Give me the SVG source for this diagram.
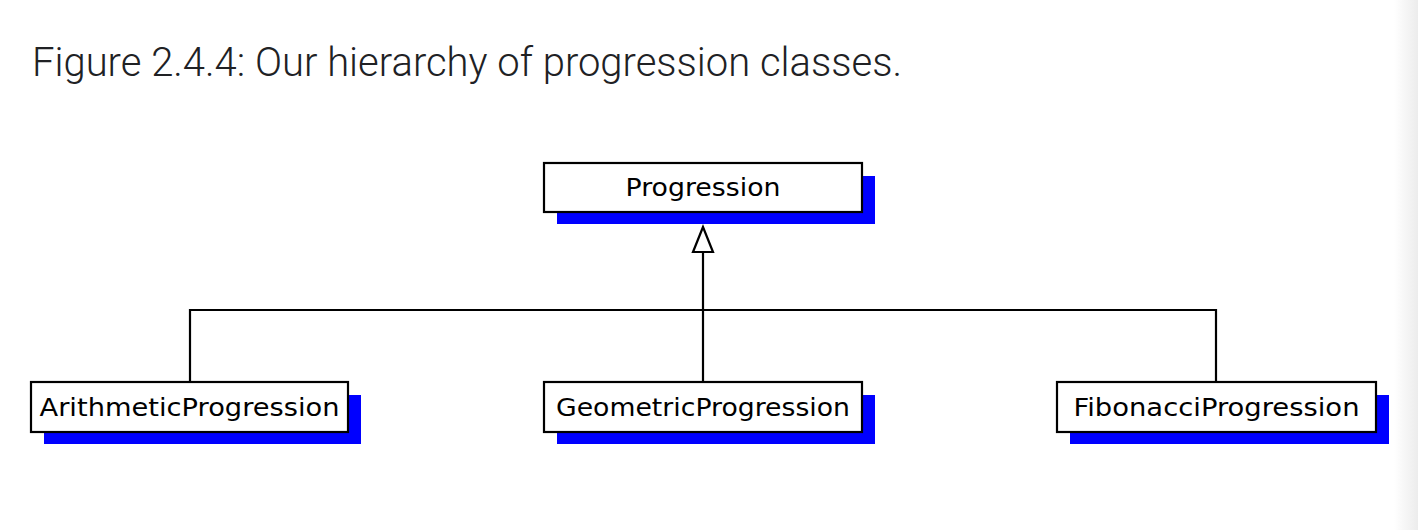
<svg xmlns="http://www.w3.org/2000/svg" width="1418" height="530" viewBox="0 0 1418 530">
  <defs>
    <linearGradient id="edge" x1="0" y1="0" x2="1" y2="0">
      <stop offset="0" stop-color="#ffffff"/>
      <stop offset="1" stop-color="#ececec"/>
    </linearGradient>
    <style>
      .shadow { fill: #0000ff; }
      .box { fill: #ffffff; stroke: #000000; stroke-width: 2.2; }
      .label { font-family: "DejaVu Sans", "Liberation Sans", sans-serif; font-size: 25px; fill: #000000; text-anchor: middle; }
      .title { font-family: Roboto, "Liberation Sans", sans-serif; font-weight: 300; font-size: 40px; fill: #202124; }
      .conn { fill: none; stroke: #000000; stroke-width: 2.2; }
    </style>
  </defs>
  <rect x="0" y="0" width="1418" height="530" fill="#ffffff"/>
  <rect x="1394" y="0" width="24" height="530" fill="url(#edge)"/>
  <text class="title" x="32" y="76" textLength="870" lengthAdjust="spacingAndGlyphs">Figure 2.4.4: Our hierarchy of progression classes.</text>

  <g id="connectors">
    <polyline class="conn" points="190,382 190,310 1216,310 1216,382"/>
    <line class="conn" x1="703" y1="252" x2="703" y2="382"/>
    <polygon points="703,227 693,252 713,252" fill="#ffffff" stroke="#000000" stroke-width="2.2" stroke-linejoin="miter"/>
  </g>

  <g id="progression">
    <rect class="shadow" x="557" y="176" width="318" height="48"/>
    <rect class="box" x="544" y="163" width="318" height="49"/>
    <text class="label" x="703" y="196" textLength="155" lengthAdjust="spacingAndGlyphs">Progression</text>
  </g>

  <g id="arithmetic">
    <rect class="shadow" x="44" y="395" width="317" height="49"/>
    <rect class="box" x="31" y="382" width="317" height="50"/>
    <text class="label" x="189.5" y="416" textLength="300" lengthAdjust="spacingAndGlyphs">ArithmeticProgression</text>
  </g>

  <g id="geometric">
    <rect class="shadow" x="557" y="395" width="318" height="49"/>
    <rect class="box" x="544" y="382" width="318" height="50"/>
    <text class="label" x="703" y="416" textLength="294" lengthAdjust="spacingAndGlyphs">GeometricProgression</text>
  </g>

  <g id="fibonacci">
    <rect class="shadow" x="1070" y="395" width="319" height="49"/>
    <rect class="box" x="1057" y="382" width="319" height="50"/>
    <text class="label" x="1216.5" y="416" textLength="286" lengthAdjust="spacingAndGlyphs">FibonacciProgression</text>
  </g>
</svg>
